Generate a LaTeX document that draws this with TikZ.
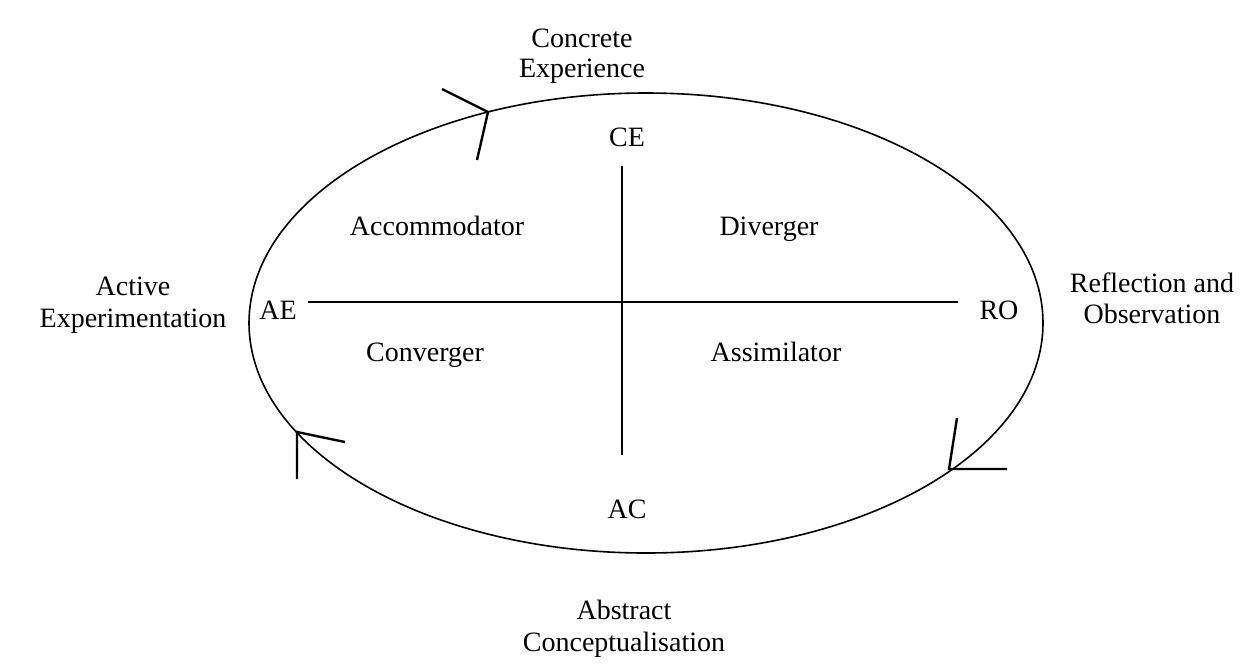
\documentclass[tikz,border=0pt]{standalone}
\usepackage{fontspec}
\setmainfont{Liberation Serif}
\usetikzlibrary{shapes.geometric}
\begin{document}
\begin{tikzpicture}[x=1pt,y=-1pt,
  lbl/.style={font=\fontsize{28}{30}\selectfont, inner sep=0pt, anchor=base},
  chev/.style={line width=2.4pt},
  ln/.style={line width=1.6pt}]
\useasboundingbox (0,0) rectangle (1246,665);
\node[draw, ellipse, line width=1.6pt, minimum width=794pt, minimum height=460pt, inner sep=0pt] (cyc) at (646,323) {};
% axes
\coordinate (top) at (622,166);
\coordinate (bot) at (622,455);
\coordinate (lft) at (308,302);
\coordinate (rgt) at (958,302);
\draw[ln] (top) -- (bot);
\draw[ln] (lft) -- (rgt);
% chevrons
\coordinate (t1) at (488,112); \coordinate (a1) at (442,89); \coordinate (b1) at (477,160);
\draw[chev] (a1) -- (t1) -- (b1);
\coordinate (t2) at (297,432); \coordinate (a2) at (345,442); \coordinate (b2) at (297,479);
\draw[chev] (a2) -- (t2) -- (b2);
\coordinate (t3) at (949,469); \coordinate (a3) at (957,418); \coordinate (b3) at (1007,469);
\draw[chev] (a3) -- (t3) -- (b3);
% outer labels
\node[lbl] (ce1) at (582,47) {Concrete};
\node[lbl] (ce2) at (582,77) {Experience};
\node[lbl] (ae1) at (133,295) {Active};
\node[lbl] (ae2) at (133,327) {Experimentation};
\node[lbl] (ro1) at (1152,292) {Reflection and};
\node[lbl] (ro2) at (1152,323) {Observation};
\node[lbl] (ac1) at (624,619) {Abstract};
\node[lbl] (ac2) at (624,651) {Conceptualisation};
% quadrant labels
\node[lbl] (acc) at (437,235) {Accommodator};
\node[lbl] (div) at (769,235) {Diverger};
\node[lbl] (con) at (425,361) {Converger};
\node[lbl] (ass) at (776,361) {Assimilator};
% axis labels
\node[lbl] (cel) at (627,146) {CE};
\node[lbl] (ael) at (278,319) {AE};
\node[lbl] (rol) at (999,319) {RO};
\node[lbl] (acl) at (627,518) {AC};
\end{tikzpicture}
\end{document}
